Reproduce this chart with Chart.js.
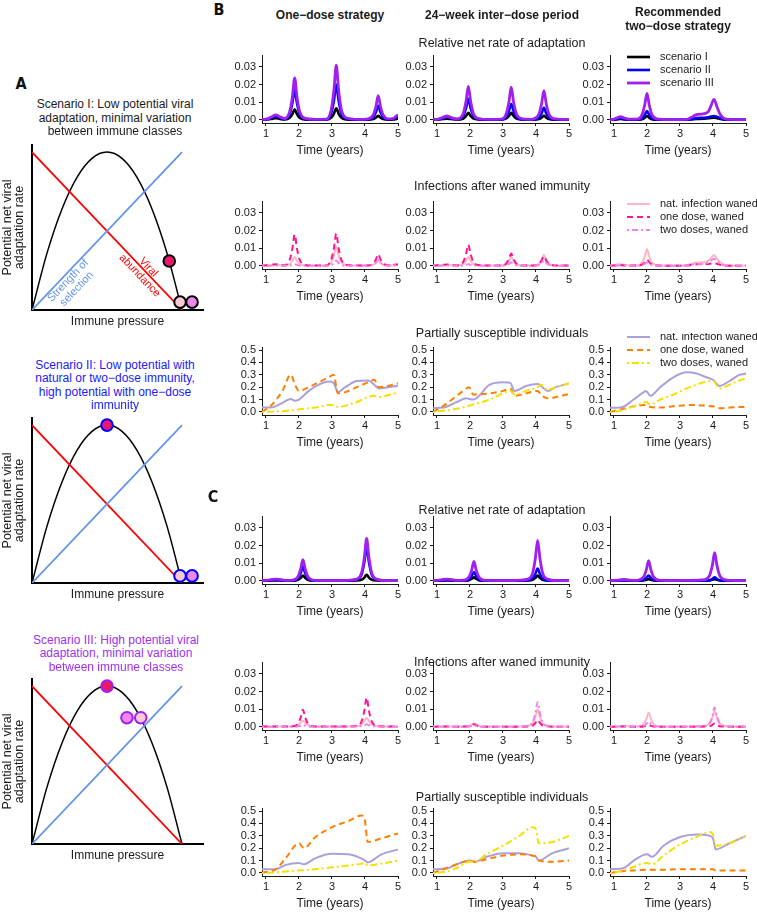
<!DOCTYPE html>
<html>
<head>
<meta charset="utf-8">
<script src="https://cdn.jsdelivr.net/npm/chart.js@4.4.1/dist/chart.umd.min.js"></script>
<style>
  html, body { margin: 0; padding: 0; background: #fff; overflow: hidden; }
  #fig { position: relative; width: 757px; height: 913px; font-family: 'Liberation Sans', Arial, sans-serif; color: #1a1a1a; }
  #fig canvas { position: absolute; }
  .t { position: absolute; transform: translate(-50%, -50%); white-space: nowrap; line-height: 1; }
  .letter { font-family: 'Liberation Sans Narrow', 'DejaVu Sans Condensed', sans-serif; font-weight: bold; font-size: 16px; color: #111; }
  .head { font-weight: bold; font-size: 12px; }
  .row { font-size: 12.5px; }
  .scen { font-size: 12px; }
</style>
</head>
<body>
<div id="fig"></div>
<script>
// ===========================
// Data - panel A (schematics)
// ===========================
const pressure   = [0, 0.1, 0.2, 0.3, 0.4, 0.5, 0.6, 0.7, 0.8, 0.9, 1.0];
const adaptation = [0, 0.36, 0.64, 0.84, 0.96, 1.0, 0.96, 0.84, 0.64, 0.36, 0];
const lineEnds   = [0, 1];
const abundance  = [1, 0];
const selection  = [0, 1];

const scen1DotX = [0.915, 0.987, 1.067];
const scen1DotY = [0.31, 0.05, 0.05];
const scen2DotX = [0.5, 0.987, 1.067];
const scen2DotY = [1.0, 0.045, 0.045];
const scen3DotX = [0.5, 0.633, 0.725];
const scen3DotY = [1.0, 0.80, 0.80];

// ===========================
// Data - panels B and C
// ===========================
const timeTicks  = [1, 2, 3, 4, 5];
const rateTicks  = [0, 0.01, 0.02, 0.03];
const shareTicks = [0, 0.1, 0.2, 0.3, 0.4, 0.5];
const scenarioNames = ['scenario I', 'scenario II', 'scenario III'];
const wanedNames    = ['nat. infection waned', 'one dose, waned', 'two doses, waned'];

// B, one-dose strategy (rate + waned infections)
const tB1 = [0.88, 1.05, 1.18, 1.3, 1.42, 1.57, 1.72, 1.8, 1.87, 1.94, 2.02, 2.17, 2.5, 2.83, 2.98, 3.06, 3.13, 3.2, 3.28, 3.43, 3.8, 4.1, 4.25, 4.33, 4.4, 4.47, 4.55, 4.7, 4.85, 5.0];
const rateB1I   = [0.0001, 0.0002, 0.0006, 0.001, 0.0006, 0.0002, 0.0012, 0.0033, 0.006, 0.0033, 0.0012, 0.0003, 0.0001, 0.0001, 0.0013, 0.0036, 0.0066, 0.0036, 0.0013, 0.0003, 0.0001, 0.0001, 0.0005, 0.0013, 0.0023, 0.0013, 0.0005, 0.0001, 0.0002, 0.0008];
const rateB1II  = [0.0002, 0.0004, 0.0013, 0.002, 0.0013, 0.0005, 0.0034, 0.0094, 0.017, 0.0094, 0.0034, 0.0007, 0.0002, 0.0003, 0.004, 0.011, 0.020, 0.011, 0.004, 0.0008, 0.0002, 0.0004, 0.0016, 0.0044, 0.008, 0.0044, 0.0016, 0.0004, 0.0005, 0.002];
const rateB1III = [0.0003, 0.0006, 0.0018, 0.0028, 0.0018, 0.0008, 0.0048, 0.013, 0.0238, 0.013, 0.0048, 0.001, 0.0003, 0.0004, 0.0062, 0.017, 0.031, 0.017, 0.0062, 0.0012, 0.0003, 0.0006, 0.0028, 0.0076, 0.0138, 0.0076, 0.0028, 0.0006, 0.0008, 0.003];
const infB1Nat = [0.0002, 0.0003, 0.0004, 0.0005, 0.0004, 0.0003, 0.001, 0.0028, 0.005, 0.0028, 0.001, 0.0003, 0.0002, 0.0002, 0.0022, 0.006, 0.011, 0.006, 0.0022, 0.0005, 0.0002, 0.0002, 0.0006, 0.0017, 0.003, 0.0017, 0.0006, 0.0003, 0.0004, 0.0006];
const infB1One = [0.0002, 0.0004, 0.0007, 0.0009, 0.0007, 0.0003, 0.0036, 0.0098, 0.0178, 0.0098, 0.0036, 0.0006, 0.0002, 0.0002, 0.0037, 0.01, 0.0183, 0.01, 0.0037, 0.0006, 0.0002, 0.0003, 0.0013, 0.0036, 0.0066, 0.0036, 0.0013, 0.0004, 0.0006, 0.001];
const infB1Two = [0.0001, 0.0001, 0.0002, 0.0002, 0.0002, 0.0001, 0.0002, 0.0006, 0.001, 0.0006, 0.0002, 0.0001, 0.0001, 0.0001, 0.0006, 0.0017, 0.003, 0.0017, 0.0006, 0.0002, 0.0001, 0.0002, 0.0007, 0.0019, 0.0034, 0.0019, 0.0007, 0.0002, 0.0003, 0.0004];

// B, 24-week inter-dose period
const tB2 = [0.88, 1.05, 1.18, 1.3, 1.42, 1.6, 1.8, 1.88, 1.95, 2.02, 2.1, 2.25, 2.6, 2.95, 3.1, 3.18, 3.25, 3.32, 3.4, 3.55, 3.8, 3.94, 4.09, 4.17, 4.24, 4.31, 4.39, 4.54, 4.8, 5.0];
const rateB2I   = [0.0001, 0.0002, 0.0005, 0.0007, 0.0005, 0.0002, 0.0008, 0.0022, 0.004, 0.0022, 0.0008, 0.0002, 0.0001, 0.0001, 0.0008, 0.0022, 0.004, 0.0022, 0.0008, 0.0002, 0.0001, 0.0001, 0.0005, 0.0013, 0.0023, 0.0013, 0.0005, 0.0001, 0.0001, 0.0001];
const rateB2II  = [0.0002, 0.0004, 0.001, 0.0015, 0.001, 0.0004, 0.0024, 0.0066, 0.012, 0.0066, 0.0024, 0.0005, 0.0002, 0.0003, 0.0018, 0.005, 0.009, 0.005, 0.0018, 0.0004, 0.0002, 0.0003, 0.0014, 0.0037, 0.0068, 0.0037, 0.0014, 0.0003, 0.0002, 0.0002];
const rateB2III = [0.0003, 0.0005, 0.0014, 0.0022, 0.0014, 0.0006, 0.0038, 0.0105, 0.019, 0.0105, 0.0038, 0.0008, 0.0003, 0.0004, 0.0037, 0.0102, 0.0185, 0.0102, 0.0037, 0.0008, 0.0003, 0.0007, 0.0033, 0.0091, 0.0166, 0.0091, 0.0033, 0.0007, 0.0003, 0.0003];
const infB2Nat = [0.0002, 0.0003, 0.0004, 0.0005, 0.0004, 0.0003, 0.001, 0.0028, 0.005, 0.0028, 0.001, 0.0003, 0.0002, 0.0002, 0.001, 0.0028, 0.005, 0.0028, 0.001, 0.0003, 0.0002, 0.0003, 0.0012, 0.0034, 0.0062, 0.0034, 0.0012, 0.0003, 0.0002, 0.0002];
const infB2One = [0.0002, 0.0004, 0.0006, 0.0008, 0.0006, 0.0003, 0.0024, 0.0066, 0.012, 0.0066, 0.0024, 0.0005, 0.0002, 0.0002, 0.0014, 0.0039, 0.007, 0.0039, 0.0014, 0.0003, 0.0002, 0.0002, 0.0011, 0.003, 0.0055, 0.003, 0.0011, 0.0003, 0.0002, 0.0002];
const infB2Two = [0.0001, 0.0001, 0.0002, 0.0002, 0.0002, 0.0001, 0.0002, 0.0006, 0.001, 0.0006, 0.0002, 0.0001, 0.0001, 0.0001, 0.0004, 0.0011, 0.002, 0.0011, 0.0004, 0.0001, 0.0001, 0.0001, 0.0006, 0.0017, 0.003, 0.0017, 0.0006, 0.0002, 0.0001, 0.0001];

// B, recommended two-dose strategy
const tB3 = [0.88, 1.0, 1.1, 1.2, 1.3, 1.45, 1.7, 1.85, 1.93, 2.0, 2.07, 2.15, 2.3, 2.7, 3.2, 3.35, 3.5, 3.7, 3.85, 3.93, 4.03, 4.12, 4.22, 4.4, 4.7, 5.0];
const rateB3I   = [0.0001, 0.0001, 0.0003, 0.0005, 0.0003, 0.0001, 0.0001, 0.0004, 0.0012, 0.0022, 0.0012, 0.0004, 0.0001, 0.0001, 0.0001, 0.0003, 0.0005, 0.0007, 0.0009, 0.0011, 0.0012, 0.001, 0.0006, 0.0001, 0.0001, 0.0001];
const rateB3II  = [0.0001, 0.0002, 0.0006, 0.001, 0.0006, 0.0002, 0.0002, 0.001, 0.0028, 0.005, 0.0028, 0.001, 0.0002, 0.0001, 0.0001, 0.0005, 0.001, 0.0012, 0.0015, 0.0019, 0.0022, 0.0018, 0.001, 0.0002, 0.0001, 0.0001];
const rateB3III = [0.0002, 0.0004, 0.0012, 0.0019, 0.0012, 0.0004, 0.0004, 0.003, 0.0083, 0.015, 0.0083, 0.003, 0.0006, 0.0002, 0.0003, 0.0015, 0.003, 0.0034, 0.0045, 0.0075, 0.0116, 0.0075, 0.003, 0.0004, 0.0002, 0.0002];
const infB3Nat = [0.0002, 0.0004, 0.0008, 0.001, 0.0008, 0.0003, 0.0003, 0.0019, 0.0052, 0.0094, 0.0052, 0.0019, 0.0004, 0.0002, 0.0004, 0.0012, 0.0019, 0.0021, 0.0028, 0.0042, 0.006, 0.0042, 0.002, 0.0004, 0.0002, 0.0002];
const infB3One = [0.0001, 0.0002, 0.0003, 0.0004, 0.0003, 0.0002, 0.0002, 0.0007, 0.002, 0.0035, 0.002, 0.0007, 0.0002, 0.0001, 0.0002, 0.0006, 0.0009, 0.001, 0.0011, 0.0013, 0.0015, 0.0012, 0.0006, 0.0001, 0.0001, 0.0001];
const infB3Two = [0.0001, 0.0001, 0.0002, 0.0003, 0.0002, 0.0001, 0.0001, 0.0004, 0.0011, 0.002, 0.0011, 0.0004, 0.0001, 0.0001, 0.0002, 0.0006, 0.001, 0.0012, 0.0018, 0.0028, 0.004, 0.0028, 0.0012, 0.0002, 0.0001, 0.0001];

// B, partially susceptible individuals
const tPsB1 = [0.88, 1.15, 1.5, 1.75, 1.88, 2.0, 2.3, 2.6, 2.9, 3.05, 3.18, 3.4, 3.75, 4.1, 4.28, 4.42, 4.7, 5.0];
const psB1Nat = [0.035, 0.035, 0.073, 0.105, 0.09, 0.1, 0.17, 0.22, 0.245, 0.235, 0.16, 0.2, 0.25, 0.255, 0.22, 0.19, 0.2, 0.21];
const psB1One = [0.0, 0.05, 0.17, 0.3, 0.22, 0.17, 0.2, 0.24, 0.28, 0.3, 0.15, 0.16, 0.2, 0.24, 0.26, 0.2, 0.21, 0.23];
const psB1Two = [0.0, 0.002, 0.006, 0.012, 0.015, 0.02, 0.03, 0.04, 0.055, 0.055, 0.04, 0.05, 0.08, 0.12, 0.13, 0.12, 0.135, 0.155];
const tPsB2 = [0.88, 1.2, 1.6, 1.9, 1.97, 2.1, 2.6, 3.0, 3.22, 3.35, 3.7, 4.05, 4.15, 4.35, 4.6, 5.0];
const psB2Nat = [0.03, 0.035, 0.08, 0.11, 0.105, 0.1, 0.22, 0.24, 0.235, 0.17, 0.21, 0.225, 0.21, 0.17, 0.2, 0.23];
const psB2One = [0.0, 0.05, 0.13, 0.19, 0.2, 0.14, 0.15, 0.17, 0.19, 0.13, 0.15, 0.17, 0.14, 0.11, 0.12, 0.145];
const psB2Two = [0.0, 0.01, 0.025, 0.045, 0.05, 0.06, 0.1, 0.15, 0.17, 0.14, 0.17, 0.2, 0.22, 0.18, 0.2, 0.23];
const tPsB3 = [0.88, 1.2, 1.6, 1.9, 1.97, 2.1, 2.4, 2.8, 3.2, 3.5, 3.8, 4.0, 4.2, 4.5, 4.8, 5.0];
const psB3Nat = [0.033, 0.035, 0.1, 0.16, 0.17, 0.13, 0.2, 0.28, 0.32, 0.31, 0.28, 0.26, 0.21, 0.25, 0.3, 0.31];
const psB3One = [0.0, 0.02, 0.045, 0.055, 0.055, 0.04, 0.035, 0.045, 0.055, 0.055, 0.05, 0.045, 0.03, 0.035, 0.04, 0.04];
const psB3Two = [0.0, 0.01, 0.045, 0.075, 0.08, 0.06, 0.1, 0.14, 0.19, 0.22, 0.245, 0.25, 0.19, 0.22, 0.255, 0.27];

// C, rate + waned infections
const tC = [0.88, 1.05, 1.18, 1.3, 1.42, 1.6, 1.82, 1.97, 2.05, 2.12, 2.19, 2.27, 2.42, 2.8, 3.3, 3.75, 3.9, 3.98, 4.05, 4.12, 4.2, 4.35, 4.65, 5.0];
const rateC1I   = [0.0001, 0.0001, 0.0002, 0.0003, 0.0002, 0.0001, 0.0001, 0.0006, 0.0017, 0.003, 0.0017, 0.0006, 0.0001, 0.0001, 0.0001, 0.0002, 0.0007, 0.0019, 0.0035, 0.0019, 0.0007, 0.0002, 0.0001, 0.0001];
const rateC1II  = [0.0001, 0.0002, 0.0005, 0.0006, 0.0005, 0.0002, 0.0003, 0.0016, 0.0044, 0.008, 0.0044, 0.0016, 0.0003, 0.0001, 0.0001, 0.0008, 0.0038, 0.0105, 0.019, 0.0105, 0.0038, 0.0008, 0.0001, 0.0001];
const rateC1III = [0.0002, 0.0004, 0.0008, 0.001, 0.0008, 0.0003, 0.0005, 0.0024, 0.0066, 0.012, 0.0066, 0.0024, 0.0005, 0.0002, 0.0002, 0.001, 0.0048, 0.0132, 0.024, 0.0132, 0.0048, 0.001, 0.0002, 0.0002];
const rateC2I   = [0.0001, 0.0001, 0.0002, 0.0003, 0.0002, 0.0001, 0.0001, 0.0004, 0.0011, 0.002, 0.0011, 0.0004, 0.0001, 0.0001, 0.0001, 0.0002, 0.0006, 0.0017, 0.003, 0.0017, 0.0006, 0.0002, 0.0001, 0.0001];
const rateC2II  = [0.0001, 0.0002, 0.0004, 0.0005, 0.0004, 0.0002, 0.0002, 0.001, 0.0028, 0.005, 0.0028, 0.001, 0.0002, 0.0001, 0.0001, 0.0003, 0.0014, 0.0039, 0.007, 0.0039, 0.0014, 0.0003, 0.0001, 0.0001];
const rateC2III = [0.0002, 0.0004, 0.0008, 0.001, 0.0008, 0.0003, 0.0004, 0.0022, 0.006, 0.011, 0.006, 0.0022, 0.0004, 0.0002, 0.0002, 0.001, 0.0046, 0.0127, 0.023, 0.0127, 0.0046, 0.001, 0.0002, 0.0002];
const infC1Nat = [0.0002, 0.0002, 0.0002, 0.0002, 0.0002, 0.0002, 0.0003, 0.0011, 0.0024, 0.0035, 0.0024, 0.0011, 0.0003, 0.0002, 0.0002, 0.0004, 0.0015, 0.0033, 0.005, 0.0033, 0.0015, 0.0004, 0.0002, 0.0002];
const infC1One = [0.0002, 0.0003, 0.0003, 0.0003, 0.0003, 0.0002, 0.0004, 0.0019, 0.0053, 0.0097, 0.0053, 0.0019, 0.0004, 0.0002, 0.0002, 0.0007, 0.0033, 0.0091, 0.0165, 0.0091, 0.0033, 0.0007, 0.0002, 0.0002];
const infC1Two = [0.0001, 0.0001, 0.0001, 0.0001, 0.0001, 0.0001, 0.0001, 0.0003, 0.0007, 0.001, 0.0007, 0.0003, 0.0001, 0.0001, 0.0001, 0.0002, 0.0005, 0.001, 0.0015, 0.001, 0.0005, 0.0002, 0.0001, 0.0001];
const infC2Nat = [0.0002, 0.0002, 0.0003, 0.0003, 0.0003, 0.0002, 0.0002, 0.0006, 0.0013, 0.002, 0.0013, 0.0006, 0.0002, 0.0002, 0.0002, 0.0005, 0.002, 0.0055, 0.01, 0.0055, 0.002, 0.0005, 0.0002, 0.0002];
const infC2One = [0.0001, 0.0002, 0.0002, 0.0002, 0.0002, 0.0001, 0.0002, 0.0004, 0.0009, 0.0015, 0.0009, 0.0004, 0.0001, 0.0001, 0.0001, 0.0003, 0.0008, 0.0022, 0.004, 0.0022, 0.0008, 0.0003, 0.0001, 0.0001];
const infC2Two = [0.0001, 0.0001, 0.0001, 0.0001, 0.0001, 0.0001, 0.0001, 0.0002, 0.0005, 0.0008, 0.0005, 0.0002, 0.0001, 0.0001, 0.0001, 0.0006, 0.0028, 0.0077, 0.014, 0.0077, 0.0028, 0.0006, 0.0001, 0.0001];

const tC3 = [0.88, 1.05, 1.18, 1.3, 1.42, 1.6, 1.75, 1.9, 1.98, 2.05, 2.12, 2.2, 2.35, 2.8, 3.3, 3.75, 3.9, 3.98, 4.05, 4.12, 4.2, 4.35, 4.65, 5.0];
const rateC3I   = [0.0001, 0.0001, 0.0002, 0.0002, 0.0002, 0.0001, 0.0001, 0.0002, 0.0006, 0.001, 0.0006, 0.0002, 0.0001, 0.0001, 0.0001, 0.0001, 0.0002, 0.0006, 0.001, 0.0006, 0.0002, 0.0001, 0.0001, 0.0001];
const rateC3II  = [0.0001, 0.0002, 0.0003, 0.0004, 0.0003, 0.0002, 0.0002, 0.0006, 0.0017, 0.003, 0.0017, 0.0006, 0.0002, 0.0001, 0.0001, 0.0002, 0.0004, 0.0011, 0.002, 0.0011, 0.0004, 0.0002, 0.0001, 0.0001];
const rateC3III = [0.0002, 0.0003, 0.0006, 0.0008, 0.0006, 0.0003, 0.0005, 0.0023, 0.0063, 0.0115, 0.0063, 0.0023, 0.0005, 0.0002, 0.0003, 0.0007, 0.0032, 0.0088, 0.016, 0.0088, 0.0032, 0.0007, 0.0002, 0.0002];
const infC3Nat = [0.0002, 0.0003, 0.0004, 0.0005, 0.0004, 0.0003, 0.0004, 0.0016, 0.0044, 0.008, 0.0044, 0.0016, 0.0004, 0.0002, 0.0003, 0.0006, 0.0018, 0.005, 0.009, 0.005, 0.0018, 0.0006, 0.0002, 0.0002];
const infC3One = [0.0001, 0.0001, 0.0002, 0.0002, 0.0002, 0.0001, 0.0001, 0.0002, 0.0006, 0.001, 0.0006, 0.0002, 0.0001, 0.0001, 0.0001, 0.0002, 0.0004, 0.0011, 0.002, 0.0011, 0.0004, 0.0002, 0.0001, 0.0001];
const infC3Two = [0.0001, 0.0001, 0.0002, 0.0003, 0.0002, 0.0001, 0.0002, 0.0006, 0.0017, 0.003, 0.0017, 0.0006, 0.0002, 0.0001, 0.0002, 0.0005, 0.0022, 0.006, 0.011, 0.006, 0.0022, 0.0005, 0.0001, 0.0001];

// C, partially susceptible individuals
const tPsC = [0.88, 1.3, 1.6, 2.0, 2.15, 2.5, 3.0, 3.5, 3.9, 4.0, 4.08, 4.5, 5.0];
const psC1Nat = [0.03, 0.03, 0.065, 0.08, 0.07, 0.12, 0.155, 0.15, 0.115, 0.1, 0.085, 0.15, 0.19];
const psC1One = [0.0, 0.03, 0.12, 0.24, 0.2, 0.29, 0.37, 0.42, 0.465, 0.42, 0.25, 0.28, 0.32];
const psC1Two = [0.0, 0.005, 0.012, 0.02, 0.022, 0.03, 0.045, 0.06, 0.075, 0.08, 0.06, 0.075, 0.098];
const psC2Nat = [0.03, 0.035, 0.07, 0.1, 0.09, 0.13, 0.16, 0.16, 0.14, 0.13, 0.1, 0.16, 0.2];
const psC2One = [0.0, 0.04, 0.07, 0.1, 0.09, 0.11, 0.14, 0.15, 0.14, 0.13, 0.1, 0.09, 0.1];
const psC2Two = [0.0, 0.01, 0.04, 0.09, 0.09, 0.15, 0.22, 0.3, 0.37, 0.35, 0.24, 0.25, 0.3];
const psC3Nat = [0.03, 0.04, 0.1, 0.15, 0.13, 0.22, 0.29, 0.31, 0.3, 0.28, 0.19, 0.24, 0.3];
const psC3One = [0.0, 0.015, 0.02, 0.025, 0.025, 0.025, 0.03, 0.03, 0.03, 0.03, 0.02, 0.02, 0.02];
const psC3Two = [0.0, 0.02, 0.05, 0.08, 0.07, 0.14, 0.23, 0.29, 0.33, 0.31, 0.22, 0.24, 0.3];

// ===========================
// Layout & styles
// ===========================
const FONT = "'Liberation Sans', Arial, sans-serif";
const INK = '#1a1a1a';
Chart.defaults.font.family = FONT;
Chart.defaults.color = INK;

const fig = document.getElementById('fig');
const colX = [262, 433, 610];
const rowTopB = [55, 201, 347];
const rowTopC = [516, 662, 808];
const PLOT_W = 136, PLOT_H = 68;

const rateStyle = [
    { color: '#000000', width: 2.6, dash: [] },
    { color: '#0000ff', width: 2.6, dash: [] },
    { color: '#a020f0', width: 2.8, dash: [] }
];
const infStyle = [
    { color: '#ffb6c1', width: 2, dash: [] },
    { color: '#ff1493', width: 2, dash: [6, 4] },
    { color: '#ee82ee', width: 2, dash: [2, 3, 6, 3] }
];
const psStyle = [
    { color: '#ad9fdc', width: 2, dash: [] },
    { color: '#ff8000', width: 2, dash: [6, 4] },
    { color: '#f5e000', width: 2, dash: [2, 3, 7, 3] }
];

function put(text, x, y, cls, color) {
    const d = document.createElement('div');
    d.className = 't ' + cls;
    d.textContent = text;
    d.style.left = x + 'px';
    d.style.top = y + 'px';
    if (color) d.style.color = color;
    fig.appendChild(d);
}

function makeCanvas(left, top, w, h) {
    const c = document.createElement('canvas');
    c.width = w; c.height = h;
    c.style.left = left + 'px'; c.style.top = top + 'px';
    c.style.width = w + 'px'; c.style.height = h + 'px';
    fig.appendChild(c);
    return c;
}

function points(xs, ys) {
    return xs.map((x, i) => ({ x: x, y: ys[i] }));
}

// small legend drawn inside the right-hand panels
function makeLegend(dy) {
    return {
        id: 'miniLegend',
        afterDraw(chart) {
            const { ctx, chartArea } = chart;
            ctx.save();
            chart.data.datasets.forEach((ds, i) => {
                const y = chartArea.top + dy + i * 13;
                const x0 = chartArea.left + 17;
                ctx.beginPath();
                ctx.setLineDash(ds.borderDash || []);
                ctx.strokeStyle = ds.borderColor;
                ctx.lineWidth = ds.borderWidth;
                ctx.moveTo(x0, y);
                ctx.lineTo(x0 + 23, y);
                ctx.stroke();
                ctx.setLineDash([]);
                ctx.fillStyle = INK;
                ctx.font = '11px ' + FONT;
                ctx.textBaseline = 'middle';
                ctx.fillText(ds.label, x0 + 33, y);
            });
            ctx.restore();
        }
    };
}

// rotated labels along the schematic lines
function makeNotes(items) {
    return {
        id: 'notes',
        afterDatasetsDraw(chart) {
            const { ctx, scales } = chart;
            items.forEach(n => {
                const px = scales.x.getPixelForValue(n.x);
                const py = scales.y.getPixelForValue(n.y);
                const a = Math.atan2(
                    scales.y.getPixelForValue(n.along[3]) - scales.y.getPixelForValue(n.along[1]),
                    scales.x.getPixelForValue(n.along[2]) - scales.x.getPixelForValue(n.along[0]));
                ctx.save();
                ctx.translate(px, py);
                ctx.rotate(a);
                ctx.fillStyle = n.color;
                ctx.font = '11px ' + FONT;
                ctx.textAlign = 'center';
                ctx.textBaseline = 'middle';
                n.lines.forEach((s, i) => ctx.fillText(s, 0, (i - (n.lines.length - 1) / 2) * 12));
                ctx.restore();
            });
        }
    };
}

function axisCommon(ticks) {
    return {
        type: 'linear',
        afterBuildTicks: s => { s.ticks = ticks.map(v => ({ value: v })); },
        grid: { display: true, drawOnChartArea: false, drawTicks: true, tickLength: 3, color: INK, lineWidth: 1 },
        border: { display: true, color: INK, width: 1 }
    };
}

// ===========================
// Panel B / C line charts
// ===========================
function timeChart(col, plotTop, kind, xs, series, legendDy) {
    const names = kind === 'rate' ? scenarioNames : wanedNames;
    const styles = kind === 'rate' ? rateStyle : (kind === 'inf' ? infStyle : psStyle);
    const isShare = kind === 'ps';
    const canvas = makeCanvas(colX[col] - 34, plotTop - 14, 182, 14 + PLOT_H + 40);
    const datasets = series.map((ys, i) => ({
        label: names[i],
        data: points(xs, ys),
        borderColor: styles[i].color,
        borderWidth: styles[i].width,
        borderDash: styles[i].dash,
        pointRadius: 0,
        fill: false,
        cubicInterpolationMode: 'monotone',
        order: series.length - i
    }));
    const x = Object.assign(axisCommon(timeTicks), {
        min: 0.88, max: 5,
        afterFit: s => { s.height = 40; },
        ticks: { padding: 1, autoSkip: false, maxRotation: 0, color: INK, font: { size: 11 }, callback: v => String(v) },
        title: { display: true, text: 'Time (years)', color: INK, font: { size: 12 }, padding: { top: 0, bottom: 5 } }
    });
    const y = Object.assign(axisCommon(isShare ? shareTicks : rateTicks), {
        min: isShare ? -0.025 : -0.00175,
        max: isShare ? 0.525 : 0.03675,
        afterFit: s => { s.width = 34; },
        ticks: { padding: 3, autoSkip: false, color: INK, font: { size: 11 }, callback: v => v.toFixed(isShare ? 1 : 2) }
    });
    new Chart(canvas.getContext('2d'), {
        type: 'line',
        data: { datasets: datasets },
        options: {
            responsive: false,
            animation: false,
            events: [],
            devicePixelRatio: 1,
            layout: { padding: { top: 14, right: 12, left: 0, bottom: 0 } },
            plugins: { legend: { display: false }, tooltip: { enabled: false } },
            scales: { x: x, y: y }
        },
        plugins: legendDy === undefined ? [] : [makeLegend(legendDy)]
    });
}

// B
timeChart(0, rowTopB[0], 'rate', tB1, [rateB1I, rateB1II, rateB1III]);
timeChart(1, rowTopB[0], 'rate', tB2, [rateB2I, rateB2II, rateB2III]);
timeChart(2, rowTopB[0], 'rate', tB3, [rateB3I, rateB3II, rateB3III], 2);
timeChart(0, rowTopB[1], 'inf', tB1, [infB1Nat, infB1One, infB1Two]);
timeChart(1, rowTopB[1], 'inf', tB2, [infB2Nat, infB2One, infB2Two]);
timeChart(2, rowTopB[1], 'inf', tB3, [infB3Nat, infB3One, infB3Two], 3);
timeChart(0, rowTopB[2], 'ps', tPsB1, [psB1Nat, psB1One, psB1Two]);
timeChart(1, rowTopB[2], 'ps', tPsB2, [psB2Nat, psB2One, psB2Two]);
timeChart(2, rowTopB[2], 'ps', tPsB3, [psB3Nat, psB3One, psB3Two], -10);
// C
timeChart(0, rowTopC[0], 'rate', tC, [rateC1I, rateC1II, rateC1III]);
timeChart(1, rowTopC[0], 'rate', tC, [rateC2I, rateC2II, rateC2III]);
timeChart(2, rowTopC[0], 'rate', tC3, [rateC3I, rateC3II, rateC3III]);
timeChart(0, rowTopC[1], 'inf', tC, [infC1Nat, infC1One, infC1Two]);
timeChart(1, rowTopC[1], 'inf', tC, [infC2Nat, infC2One, infC2Two]);
timeChart(2, rowTopC[1], 'inf', tC3, [infC3Nat, infC3One, infC3Two]);
timeChart(0, rowTopC[2], 'ps', tPsC, [psC1Nat, psC1One, psC1Two]);
timeChart(1, rowTopC[2], 'ps', tPsC, [psC2Nat, psC2One, psC2Two]);
timeChart(2, rowTopC[2], 'ps', tPsC, [psC3Nat, psC3One, psC3Two]);

// ===========================
// Panel A schematics
// ===========================
const dotFill = ['#e8186f', '#f9c9d4', '#ee88ee'];

function schematic(plotTop, dotX, dotY, fills, ring, notes) {
    const canvas = makeCanvas(0, plotTop - 10, 215, 10 + 165 + 22);
    new Chart(canvas.getContext('2d'), {
        type: 'line',
        data: {
            datasets: [
                { data: points(dotX, dotY), showLine: false, pointRadius: 5.8, pointBorderWidth: 2,
                  pointBackgroundColor: fills, pointBorderColor: ring, clip: false, order: 0 },
                { data: points(lineEnds, selection), borderColor: '#6495ed', borderWidth: 1.8, pointRadius: 0, order: 1 },
                { data: points(lineEnds, abundance), borderColor: '#ff0000', borderWidth: 1.8, pointRadius: 0, order: 2 },
                { data: points(pressure, adaptation), borderColor: '#000000', borderWidth: 1.5, pointRadius: 0,
                  cubicInterpolationMode: 'monotone', order: 3 }
            ]
        },
        options: {
            responsive: false,
            animation: false,
            events: [],
            devicePixelRatio: 1,
            layout: { padding: { top: 10, right: 12, left: 0, bottom: 0 } },
            plugins: { legend: { display: false }, tooltip: { enabled: false } },
            scales: {
                x: {
                    type: 'linear', min: 0, max: 1.14,
                    afterFit: s => { s.height = 22; },
                    grid: { display: false }, ticks: { display: false },
                    border: { display: true, color: '#000', width: 2 },
                    title: { display: true, text: 'Immune pressure', color: INK, font: { size: 12 }, padding: { top: 0, bottom: 3 } }
                },
                y: {
                    type: 'linear', min: 0, max: 1.045,
                    afterFit: s => { s.width = 32; },
                    grid: { display: false }, ticks: { display: false },
                    border: { display: true, color: '#000', width: 2 },
                    title: { display: true, text: ['Potential net viral', 'adaptation rate'], color: INK,
                             font: { size: 12.5, lineHeight: 0.95 }, padding: { top: 2, bottom: 0 } }
                }
            }
        },
        plugins: [makeNotes(notes || [])]
    });
}

schematic(145, scen1DotX, scen1DotY, dotFill, '#000000', [
    { x: 0.27, y: 0.16, along: [0, 0, 1, 1], lines: ['Strength of', 'selection'], color: '#6495ed' },
    { x: 0.747, y: 0.244, along: [0, 1, 1, 0], lines: ['Viral', 'abundance'], color: '#ff0000' }
]);
schematic(418, scen2DotX, scen2DotY, dotFill, '#0000ff');
schematic(679, scen3DotX, scen3DotY, [dotFill[0], dotFill[2], dotFill[1]], '#a020f0');

// ===========================
// Text
// ===========================
put('A', 21, 84, 'letter');
put('B', 219, 10, 'letter');
put('C', 213, 497, 'letter');

put('Scenario I: Low potential viral', 115, 104, 'scen');
put('adaptation, minimal variation', 115, 118, 'scen');
put('between immune classes', 115, 131, 'scen');
put('Scenario II: Low potential with', 115, 365, 'scen', '#1a1aff');
put('natural or two\u2212dose immunity,', 115, 378, 'scen', '#1a1aff');
put('high potential with one\u2212dose', 115, 392, 'scen', '#1a1aff');
put('immunity', 115, 405, 'scen', '#1a1aff');
put('Scenario III: High potential viral', 116, 640, 'scen', '#a030f0');
put('adaptation, minimal variation', 116, 653, 'scen', '#a030f0');
put('between immune classes', 116, 667, 'scen', '#a030f0');

put('One\u2212dose strategy', 330, 15, 'head');
put('24\u2212week inter\u2212dose period', 502, 15, 'head');
put('Recommended', 678, 12, 'head');
put('two\u2212dose strategy', 678, 26, 'head');

const rowTitles = ['Relative net rate of adaptation', 'Infections after waned immunity', 'Partially susceptible individuals'];
const titleY = { B: [43, 186, 333], C: [510, 662, 797] };
rowTitles.forEach((s, i) => {
    put(s, 502, titleY.B[i], 'row');
    put(s, 502, titleY.C[i], 'row');
});
</script>
</body>
</html>
